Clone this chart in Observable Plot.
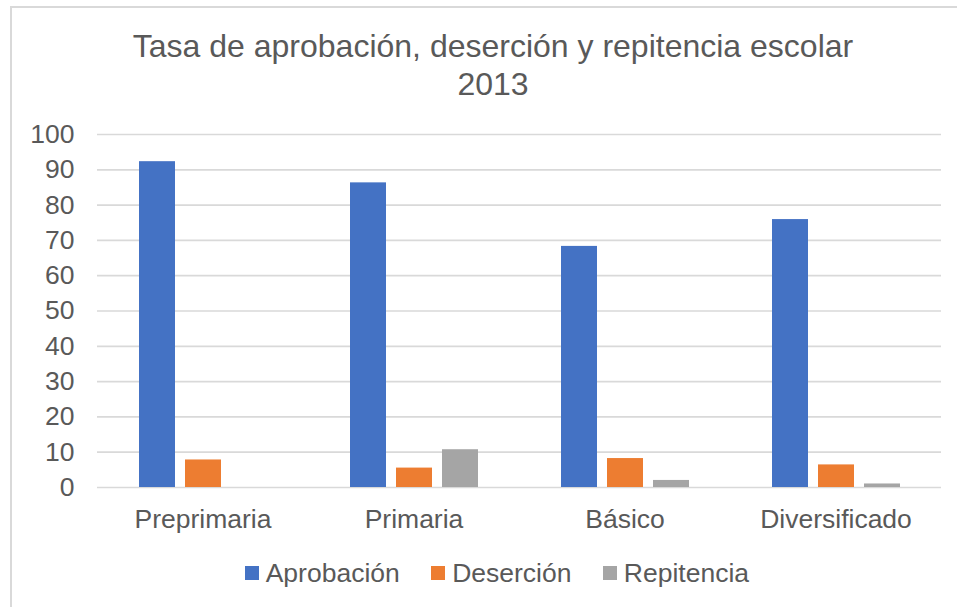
<!DOCTYPE html>
<html>
<head>
<meta charset="utf-8">
<script src="https://cdn.jsdelivr.net/npm/d3@7"></script>
<script src="https://cdn.jsdelivr.net/npm/@observablehq/plot@0.6"></script>
<style>
  html, body { margin: 0; padding: 0; background: #fff; overflow: hidden; }
  #wrap { position: relative; width: 957px; height: 607px; font-family: "Liberation Sans", Arial, sans-serif; color: #595959; }
  #frame { position: absolute; left: 10px; top: 6px; width: 990px; height: 700px; border: 2px solid #d9d9d9; box-sizing: border-box; }
  #title { position: absolute; left: 10px; width: 966px; top: 27px; text-align: center; font-size: 32px; line-height: 38px; }
  #chart { position: absolute; left: 0; top: 110px; }
  #legend { position: absolute; left: 245px; top: 559px; height: 28px; display: flex; align-items: center; font-size: 26.5px; line-height: 28px; }
  .item { display: flex; align-items: center; margin-right: 31.7px; }
  .sw { width: 14px; height: 14px; margin-right: 6.7px; }
</style>
</head>
<body>
<div id="wrap">
  <div id="frame"></div>
  <div id="title">Tasa de aprobación, deserción y repitencia escolar<br>2013</div>
  <div id="chart"></div>
  <div id="legend"></div>
</div>
<script>
const categories = ["Preprimaria", "Primaria", "Básico", "Diversificado"];
const series = ["Aprobación", "Deserción", "Repitencia"];
const aprobacion = [92.3, 86.3, 68.3, 75.9];
const desercion = [7.8, 5.5, 8.2, 6.4];
const repitencia = [0, 10.7, 2.0, 1.0];
const yTicks = [0, 10, 20, 30, 40, 50, 60, 70, 80, 90, 100];
const colors = ["#4472c4", "#ed7d31", "#a5a5a5"];

const seriesValues = [aprobacion, desercion, repitencia];
const data = [];
categories.forEach((c, i) => {
  series.forEach((s, j) => {
    data.push({ level: c, series: s, value: seriesValues[j][i] });
  });
});

const plot = Plot.plot({
  width: 957,
  height: 427,
  marginTop: 24,
  marginBottom: 50,
  marginLeft: 95,
  marginRight: 15,
  style: { fontFamily: '"Liberation Sans", Arial, sans-serif', fontSize: "26.5px", color: "#595959", background: "transparent" },
  fx: { domain: categories, padding: 0, label: null },
  x: { domain: series, paddingInner: 0.22, paddingOuter: 0.86, axis: null },
  y: { domain: [0, 100], label: null },
  color: { domain: series, range: colors },
  marks: [
    Plot.gridY(yTicks, { stroke: "#d9d9d9", strokeOpacity: 1, strokeWidth: 1.7 }),
    Plot.barY(data, { fx: "level", x: "series", y: "value", fill: "series" }),
    Plot.axisY(yTicks, { tickSize: 0, tickPadding: 23, label: null, fontSize: 26.5 }),
    Plot.axisFx({ anchor: "bottom", tickSize: 0, tickPadding: 22, label: null, fontSize: 26.5 })
  ]
});
document.getElementById("chart").appendChild(plot);

const legend = document.getElementById("legend");
series.forEach((s, i) => {
  const item = document.createElement("div");
  item.className = "item";
  const sw = document.createElement("div");
  sw.className = "sw";
  sw.style.background = colors[i];
  const t = document.createElement("span");
  t.textContent = s;
  item.appendChild(sw);
  item.appendChild(t);
  legend.appendChild(item);
});
</script>
</body>
</html>
